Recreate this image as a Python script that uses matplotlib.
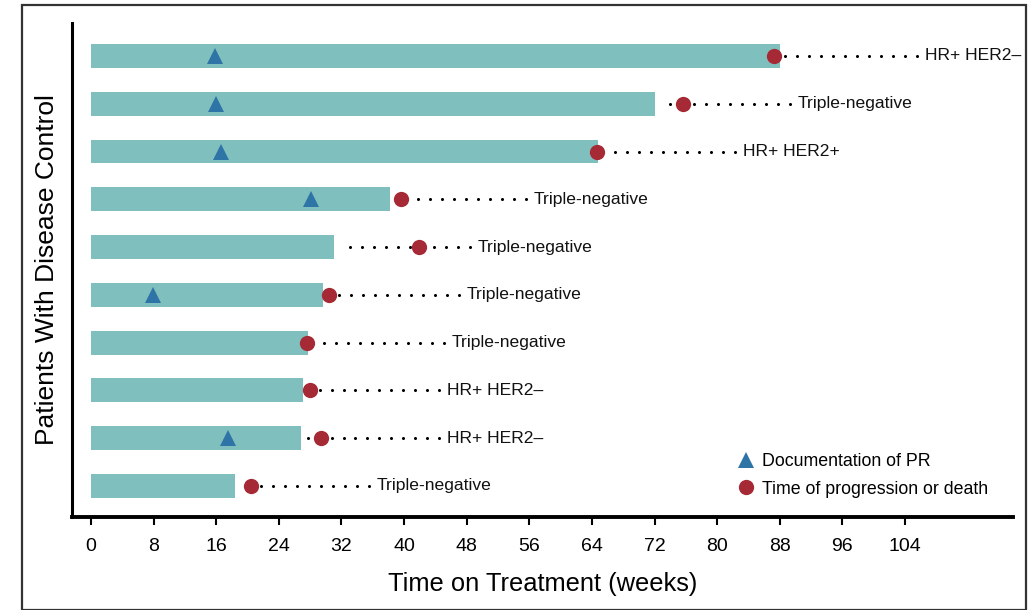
import numpy as np
import matplotlib
matplotlib.use("Agg")
import matplotlib.pyplot as plt
from matplotlib.lines import Line2D
from matplotlib.patches import Rectangle

# dados (semanas), de cima para baixo
subtipos = ["HR+ HER2\u2013", "Triple-negative", "HR+ HER2+", "Triple-negative",
            "Triple-negative", "Triple-negative", "Triple-negative", "HR+ HER2\u2013",
            "HR+ HER2\u2013", "Triple-negative"]
duracao = [88.0, 72.0, 64.8, 38.2, 31.0, 29.6, 27.7, 27.1, 26.8, 18.4]
progressao = [87.3, 75.7, 64.6, 39.6, 41.9, 30.4, 27.6, 28.0, 29.4, 20.4]
resposta_pr = [15.8, 16.0, 16.6, 28.1, np.nan, 7.9, np.nan, np.nan, 17.5, np.nan]
semanas_ticks = list(range(0, 105, 8))

# onde começa o texto de cada linha (layout)
pos_rotulo = [106.5, 90.3, 83.3, 56.6, 49.4, 48.0, 46.1, 45.5, 45.5, 36.5]

cor_barra = "#7fbfbd"
cor_tri = "#2f74a6"
cor_circ = "#a52a35"

plt.rcParams["font.family"] = ["Liberation Sans", "DejaVu Sans"]

fig = plt.figure(figsize=(10.3, 6.1), dpi=100)
ax = fig.add_axes([72 / 1030, 1 - 517 / 610, (1013 - 72) / 1030, (517 - 23) / 610])

n = len(duracao)
ys = np.arange(n)[::-1]

ax.barh(ys, duracao, height=0.5, color=cor_barra, zorder=1)

# linha pontilhada entre a barra e o subtipo (contada a partir do texto)
for y, fim, x_rot, rot in zip(ys, duracao, pos_rotulo, subtipos):
    pontos = np.arange(x_rot - 1.0, fim + 0.6, -1.53)
    ax.plot(pontos, np.full(len(pontos), y), "o", color="black", ms=2.2, mew=0, zorder=2)
    ax.text(x_rot, y, rot, va="center", ha="left", fontsize=12.6, color="#111111")

ax.plot(resposta_pr, ys, "^", color=cor_tri, ms=12, mew=0, zorder=3, linestyle="none")
ax.plot(progressao, ys, "o", color=cor_circ, ms=11, mew=0, zorder=3, linestyle="none")

ax.set_xlim(-2.43, 117.8)
ax.set_ylim(-0.65, n - 1 + 0.69)
ax.set_xticks(semanas_ticks)
ax.set_xticklabels([str(s) for s in semanas_ticks], fontsize=14)
ax.set_yticks([])
ax.tick_params(axis="x", direction="out", length=6, width=1.5, pad=9)

for lado in ["top", "right"]:
    ax.spines[lado].set_visible(False)
ax.spines["left"].set_linewidth(2.2)
ax.spines["bottom"].set_linewidth(2.8)

ax.set_xlabel("Time on Treatment (weeks)", fontsize=18.4, labelpad=12)
ax.set_ylabel("Patients With Disease Control", fontsize=19, labelpad=9.6)

legenda = [
    Line2D([], [], marker="^", color=cor_tri, ms=12, mew=0, linestyle="none",
           label="Documentation of PR"),
    Line2D([], [], marker="o", color=cor_circ, ms=11, mew=0, linestyle="none",
           label="Time of progression or death"),
]
ax.legend(handles=legenda, loc="lower left", bbox_to_anchor=(0.69, 0.014), frameon=False,
          fontsize=12.8, handlelength=1.4, handletextpad=0.2, labelspacing=0.6,
          borderpad=0.2)

# moldura externa
fig.patches.append(Rectangle((22 / 1030, 0.0), (1026 - 22) / 1030, 1 - 5 / 610,
                             transform=fig.transFigure, fill=False, lw=1.6,
                             edgecolor="#333333"))

fig.savefig("out.png", dpi=100)
